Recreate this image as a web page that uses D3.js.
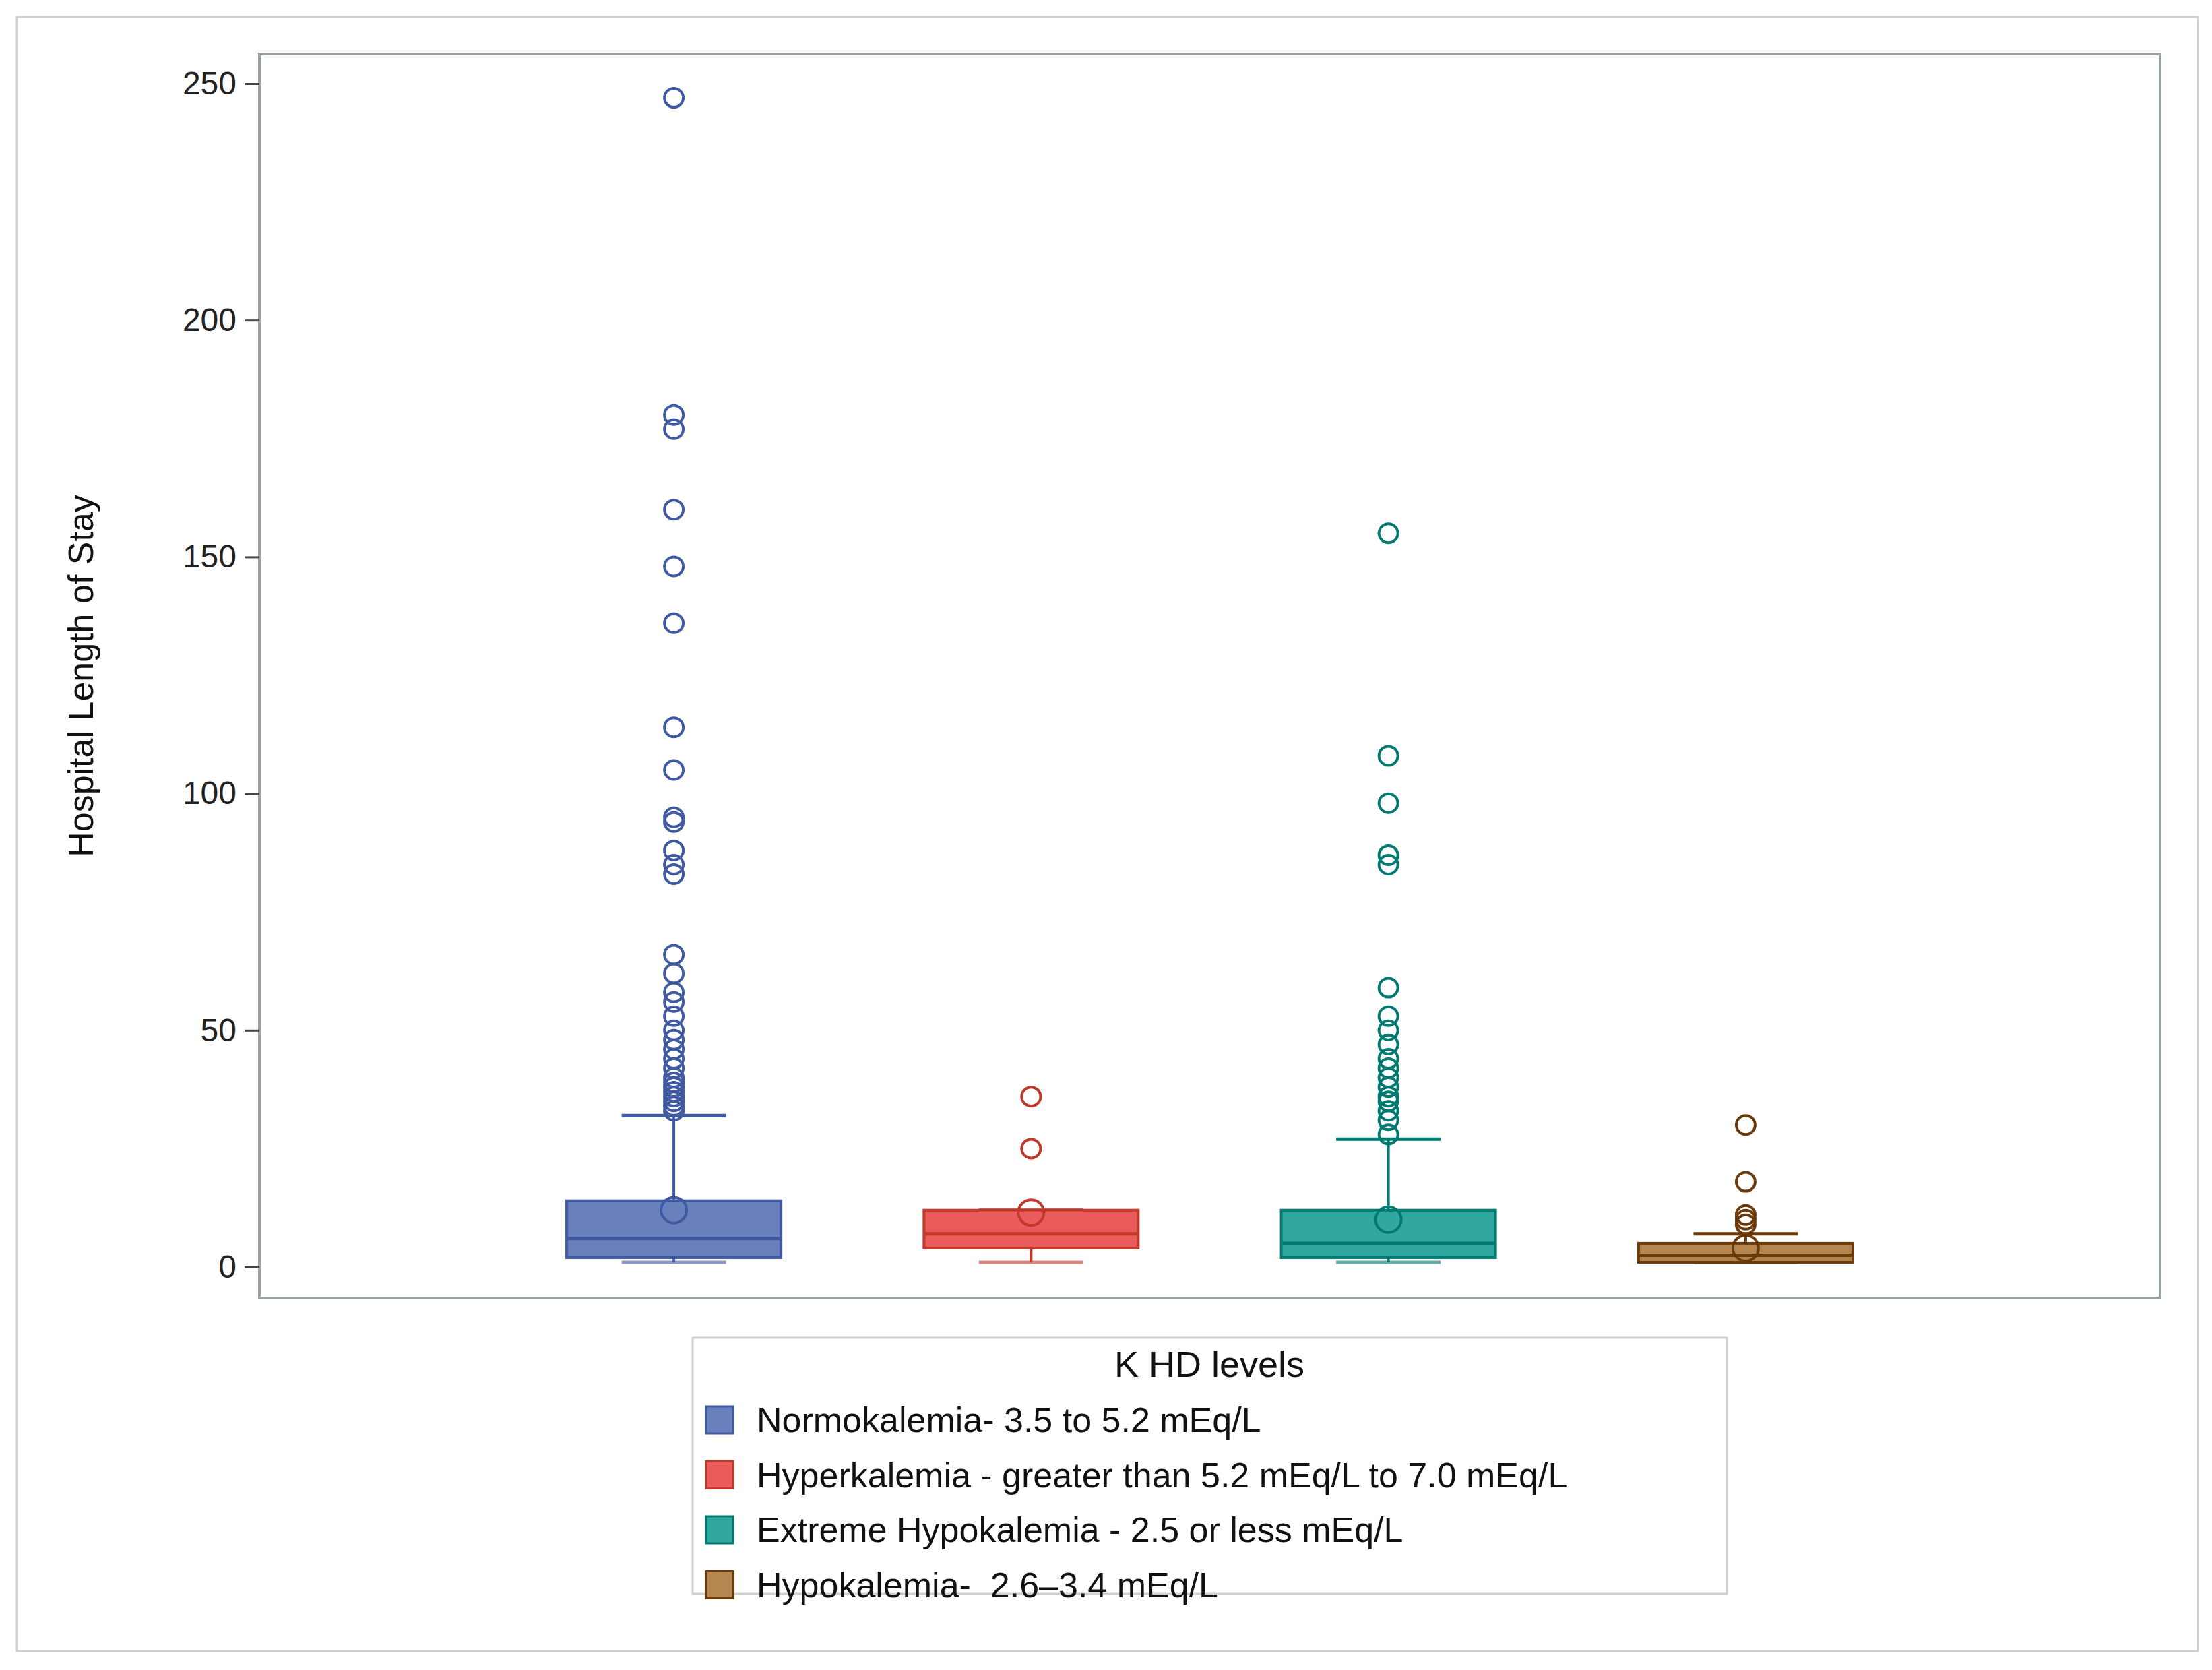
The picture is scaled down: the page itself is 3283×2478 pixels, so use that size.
<!DOCTYPE html>
<html><head><meta charset="utf-8">
<script src="https://cdn.jsdelivr.net/npm/d3@7"></script>
<style>body{margin:0;background:#fff}svg{display:block;font-family:"Liberation Sans",Arial,sans-serif}</style>
</head><body><svg id="c" width="3283" height="2478"></svg>
<script>
const categories = ["Normokalemia- 3.5 to 5.2 mEq/L","Hyperkalemia - greater than 5.2 mEq/L to 7.0 mEq/L","Extreme Hypokalemia - 2.5 or less mEq/L","Hypokalemia-  2.6\u20133.4 mEq/L"];
const q1 = [2, 4, 2, 1];
const median = [6, 7, 5, 2.5];
const q3 = [14, 12, 12, 5];
const whiskerLow = [1, 1, 1, 1];
const whiskerHigh = [32, 12, 27, 7];
const means = [12, 11.5, 10, 4];
const outliers = [
  [247,180,177,160,148,136,114,105,95,94,88,85,83,66,62,58,56,53,50,48,46,44,42,40,39,38,37,36,35,34,33],
  [36,25],
  [155,108,98,87,85,59,53,50,47,44,42,40,38,36,35,33,31,28],
  [30,18,11,10,9]
];
const yTicks = [0,50,100,150,200,250];
const fills = ["#6a80bc","#ea5b5b","#31a89f","#b5864f"];
const strokes = ["#3f5aa0","#c0392b","#007a70","#6b3a0a"];

const svg = d3.select("#c");
const L=385,R=3206,T=80,B=1926;
svg.append("rect").attr("x",25).attr("y",25).attr("width",3237).attr("height",2425).attr("fill","none").attr("stroke","#d0d0d0").attr("stroke-width",3);
const x = d3.scalePoint().domain(categories).range([L,R]).padding(1.16);
const y = d3.scaleLinear().domain([0,250]).range([1880,124]);
svg.append("rect").attr("x",L).attr("y",T).attr("width",R-L).attr("height",B-T).attr("fill","none").attr("stroke","#9aa3a3").attr("stroke-width",4);
const ya = svg.append("g").attr("transform",`translate(${L},0)`).call(d3.axisLeft(y).tickValues(yTicks).tickSize(22).tickPadding(12));
ya.select(".domain").remove();
ya.selectAll("line").attr("stroke","#444").attr("stroke-width",3);
ya.selectAll("text").attr("font-size",48).attr("fill","#222").attr("font-family","Liberation Sans, Arial");
svg.append("text").attr("transform",`translate(138,${(T+B)/2}) rotate(-90)`).attr("text-anchor","middle").attr("font-size",52).attr("fill","#111").text("Hospital Length of Stay");

const bw=318, cw=155;
categories.forEach((c,i)=>{
  const g=svg.append("g"), cx=x(c);
  g.append("line").attr("x1",cx).attr("x2",cx).attr("y1",y(whiskerHigh[i])).attr("y2",y(q3[i])).attr("stroke",strokes[i]).attr("stroke-width",4);
  g.append("line").attr("x1",cx).attr("x2",cx).attr("y1",y(q1[i])).attr("y2",y(whiskerLow[i])).attr("stroke",strokes[i]).attr("stroke-width",4);
  g.append("line").attr("x1",cx-cw/2).attr("x2",cx+cw/2).attr("y1",y(whiskerHigh[i])).attr("y2",y(whiskerHigh[i])).attr("stroke",strokes[i]).attr("stroke-width",5);
  g.append("line").attr("x1",cx-cw/2).attr("x2",cx+cw/2).attr("y1",y(whiskerLow[i])).attr("y2",y(whiskerLow[i])).attr("stroke",strokes[i]).attr("stroke-width",5).attr("opacity",0.6);
  g.append("rect").attr("x",cx-bw/2).attr("width",bw).attr("y",y(q3[i])).attr("height",y(q1[i])-y(q3[i])).attr("fill",fills[i]).attr("stroke",strokes[i]).attr("stroke-width",4);
  g.append("line").attr("x1",cx-bw/2).attr("x2",cx+bw/2).attr("y1",y(median[i])).attr("y2",y(median[i])).attr("stroke",strokes[i]).attr("stroke-width",5);
  outliers[i].forEach(v=>g.append("circle").attr("cx",cx).attr("cy",y(v)).attr("r",14).attr("fill","none").attr("stroke",strokes[i]).attr("stroke-width",4));
  g.append("circle").attr("cx",cx).attr("cy",y(means[i])).attr("r",19).attr("fill","none").attr("stroke",strokes[i]).attr("stroke-width",4);
});

// legend
const lg=svg.append("g");
lg.append("rect").attr("x",1028).attr("y",1985).attr("width",1535).attr("height",380).attr("fill","none").attr("stroke","#d0d0d0").attr("stroke-width",3);
lg.append("text").attr("x",1795).attr("y",2043).attr("text-anchor","middle").attr("font-size",54).attr("fill","#111").text("K HD levels");
categories.forEach((c,i)=>{
  const yy=2107+i*81.5;
  lg.append("rect").attr("x",1048).attr("y",yy-20).attr("width",40).attr("height",40).attr("fill",fills[i]).attr("stroke",strokes[i]).attr("stroke-width",3);
  lg.append("text").attr("x",1123).attr("y",yy+18).attr("font-size",52).attr("fill","#111").attr("xml:space","preserve").text(c);
});
</script></body></html>
